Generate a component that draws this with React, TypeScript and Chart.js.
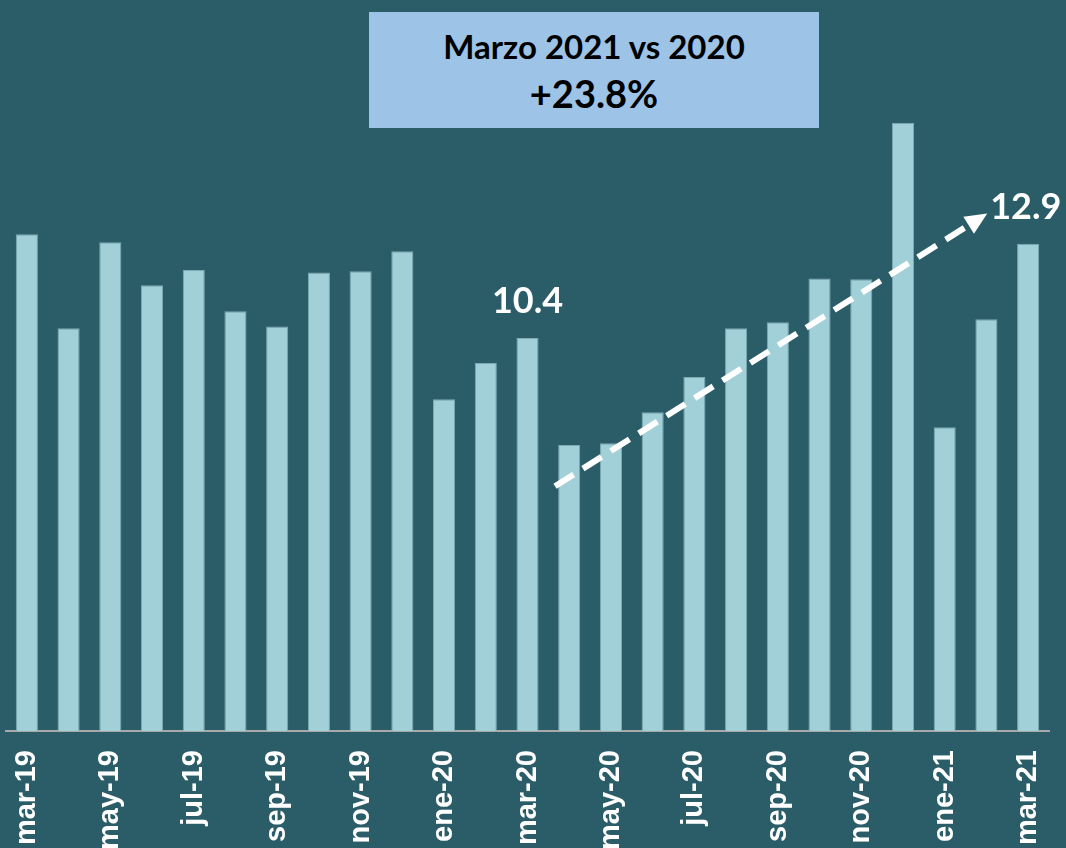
import React, { useEffect, useRef } from "react";
import { Chart, registerables } from "chart.js";

Chart.register(...registerables);

const CATEGORIES = [
  "mar-19", "abr-19", "may-19", "jun-19", "jul-19", "ago-19", "sep-19", "oct-19", "nov-19", "dic-19",
  "ene-20", "feb-20", "mar-20", "abr-20", "may-20", "jun-20", "jul-20", "ago-20", "sep-20", "oct-20",
  "nov-20", "dic-20", "ene-21", "feb-21", "mar-21",
];

const VALUES = [
  13.15, 10.66, 12.94, 11.8, 12.2, 11.11, 10.71, 12.14, 12.17, 12.7,
  8.78, 9.74, 10.4, 7.57, 7.62, 8.44, 9.37, 10.66, 10.82, 11.98,
  11.96, 16.1, 8.04, 10.9, 12.9,
];

const LABELED_INDEXES = [12, 24];
const ARROW_FROM = [12.66, 6.48];
const ARROW_TO = [23.02, 13.7];
const TITLE_LINE_1 = "Marzo 2021 vs 2020";
const TITLE_LINE_2 = "+23.8%";

const BG = "#2b5d69";
const BAR = "#a2d0d8";

const overlayPlugin = {
  id: "overlay",
  afterDatasetsDraw(chart: any) {
    const ctx = chart.ctx;
    const meta = chart.getDatasetMeta(0);
    const xs = chart.scales.x;
    const ys = chart.scales.y;
    ctx.save();
    ctx.fillStyle = "#ffffff";
    ctx.font = "bold 36px Lato, 'Open Sans', sans-serif";
    ctx.textBaseline = "middle";
    const a = meta.data[LABELED_INDEXES[0]];
    ctx.textAlign = "center";
    ctx.fillText(VALUES[LABELED_INDEXES[0]].toFixed(1), a.x, a.y - 37);
    const b = meta.data[LABELED_INDEXES[1]];
    ctx.textAlign = "left";
    ctx.fillText(VALUES[LABELED_INDEXES[1]].toFixed(1), b.x - 38, b.y - 36);

    const x1 = xs.getPixelForValue(ARROW_FROM[0]);
    const y1 = ys.getPixelForValue(ARROW_FROM[1]);
    const x2 = xs.getPixelForValue(ARROW_TO[0]);
    const y2 = ys.getPixelForValue(ARROW_TO[1]);
    const ang = Math.atan2(y2 - y1, x2 - x1);
    const head = 22;
    const hw = 10;
    const bx = x2 - head * Math.cos(ang);
    const by = y2 - head * Math.sin(ang);
    ctx.strokeStyle = "#ffffff";
    ctx.lineWidth = 6;
    ctx.setLineDash([22, 11]);
    ctx.beginPath();
    ctx.moveTo(x1, y1);
    ctx.lineTo(bx + 2 * Math.cos(ang), by + 2 * Math.sin(ang));
    ctx.stroke();
    ctx.setLineDash([]);
    ctx.fillStyle = "#ffffff";
    ctx.beginPath();
    ctx.moveTo(x2, y2);
    ctx.lineTo(bx + hw * Math.sin(ang), by - hw * Math.cos(ang));
    ctx.lineTo(bx - hw * Math.sin(ang), by + hw * Math.cos(ang));
    ctx.closePath();
    ctx.fill();
    ctx.restore();
  },
};

export default function App() {
  const ref = useRef<HTMLCanvasElement>(null);

  useEffect(() => {
    document.body.style.margin = "0";
    document.body.style.background = BG;
    const chart = new Chart(ref.current as HTMLCanvasElement, {
      type: "bar",
      data: {
        labels: CATEGORIES,
        datasets: [
          {
            data: VALUES,
            backgroundColor: BAR,
            borderColor: "#7eaab4",
            borderWidth: 1,
            barPercentage: 0.53,
            categoryPercentage: 1,
          },
        ],
      },
      options: {
        animation: false,
        responsive: false,
        maintainAspectRatio: false,
        layout: { padding: { top: 51, left: 6, right: 17, bottom: 0 } },
        plugins: { legend: { display: false }, tooltip: { enabled: false }, title: { display: false } },
        scales: {
          x: {
            grid: { display: false, drawTicks: false },
            border: { display: true, color: "#a9a9a9", width: 2 },
            ticks: {
              autoSkip: false,
              minRotation: 90,
              maxRotation: 90,
              padding: 19,
              color: "#ffffff",
              font: { family: "'Liberation Sans', Arial, sans-serif", size: 29, weight: "bold" },
              callback: (_v: any, i: number) => (i % 2 === 0 ? CATEGORIES[i] : ""),
            },
            afterFit: (scale: any) => {
              scale.height = 117;
              scale.paddingLeft = 0;
              scale.paddingRight = 0;
            },
          },
          y: { display: false, min: 0, max: 18 },
        },
      },
      plugins: [overlayPlugin],
    });
    return () => chart.destroy();
  }, []);

  return (
    <div style={{ position: "fixed", left: 0, top: 0, width: 1066, height: 848, background: BG, overflow: "hidden" }}>
      <canvas ref={ref} width={1066} height={848} style={{ position: "absolute", left: 0, top: 0, width: 1066, height: 848 }} />
      <div
        style={{
          position: "absolute",
          left: 369,
          top: 12,
          width: 450,
          height: 116,
          background: "#9dc3e6",
          color: "#000",
          fontFamily: "Lato, 'Open Sans', sans-serif",
          fontWeight: "bold",
          textAlign: "center",
        }}
      >
        <div style={{ position: "absolute", left: 0, right: 0, top: 13, lineHeight: "42px", fontSize: 33 }}>{TITLE_LINE_1}</div>
        <div style={{ position: "absolute", left: 0, right: 0, top: 58, lineHeight: "46px", fontSize: 38 }}>{TITLE_LINE_2}</div>
      </div>
    </div>
  );
}
